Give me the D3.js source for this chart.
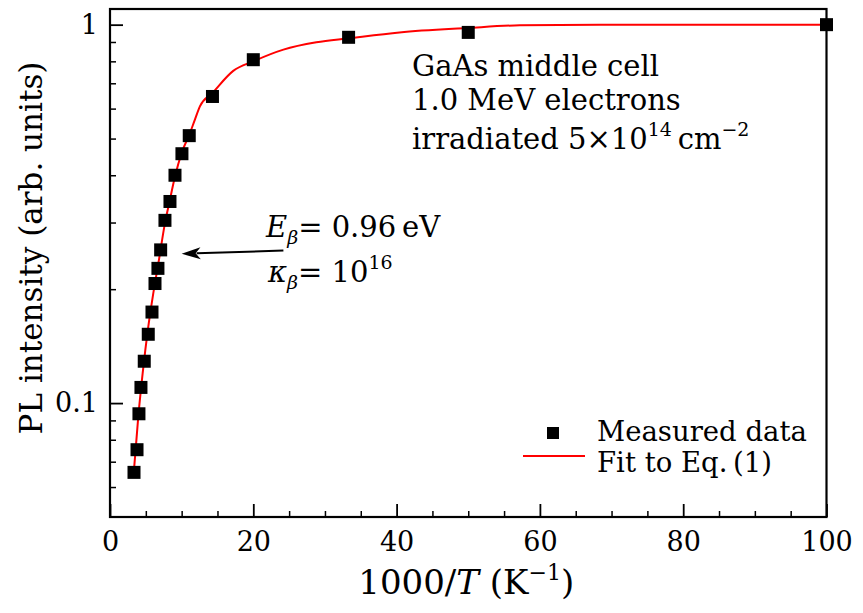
<!DOCTYPE html>
<html>
<head>
<meta charset="utf-8">
<script src="https://cdn.jsdelivr.net/npm/d3@7/dist/d3.min.js"></script>
<style>
  html, body { margin: 0; padding: 0; background: #fff; }
  svg { display: block; }
  text { font-family: "DejaVu Serif", serif; fill: #000; }
</style>
</head>
<body>
<svg id="chart" width="863" height="613"></svg>
<script>
// ---- data ----
const measuredX = [3.35, 3.77, 4.04, 4.32, 4.78, 5.34, 5.86, 6.28, 6.69, 7.07, 7.67, 8.37, 9.07, 10.04, 11.06, 14.3, 20.0, 33.3, 50.0, 100];
const measuredY = [0.0656, 0.0753, 0.0937, 0.110, 0.129, 0.152, 0.174, 0.207, 0.227, 0.254, 0.304, 0.341, 0.400, 0.456, 0.509, 0.646, 0.808, 0.926, 0.954, 1.0];
const fitX = [3.35, 3.95, 4.56, 5.34, 6.04, 6.83, 7.67, 8.27, 9.07, 10.0, 11.16, 11.85, 12.55, 14.3, 17.2, 20.0, 24.2, 28.8, 33.3, 40.4, 49.9, 57.2, 68.3, 100];
const fitY = [0.0667, 0.0922, 0.120, 0.159, 0.195, 0.239, 0.299, 0.338, 0.397, 0.458, 0.517, 0.561, 0.608, 0.660, 0.755, 0.800, 0.859, 0.898, 0.920, 0.954, 0.980, 0.996, 1.0, 1.0];
const xMajorTicks = [0, 20, 40, 60, 80, 100];
const xMinorTicks = [5, 10, 15, 25, 30, 35, 45, 50, 55, 65, 70, 75, 85, 90, 95];
const yMajorTicks = [0.1, 1];
const yMajorLabels = ["0.1", "1"];
const yMinorTicks = [0.06, 0.07, 0.08, 0.09, 0.2, 0.3, 0.4, 0.5, 0.6, 0.7, 0.8, 0.9];
const legendLabels = ["Measured data", "Fit to Eq.\u2009(1)"];

// ---- layout ----
const W = 863, H = 613;
const m = { left: 110, right: 36.5, top: 9, bottom: 96 };
const svg = d3.select("#chart");

const x = d3.scaleLinear().domain([0, 100]).range([m.left, W - m.right]);
const y = d3.scaleLog().domain([0.05, 1.1]).range([H - m.bottom, m.top]);

// minor ticks
svg.append("g").attr("transform", `translate(0,${H - m.bottom})`)
  .call(d3.axisBottom(x).tickValues(xMinorTicks).tickSize(-6).tickFormat(""))
  .call(g => g.select(".domain").remove())
  .call(g => g.selectAll("line").attr("stroke-width", 1.5));
svg.append("g").attr("transform", `translate(${m.left},0)`)
  .call(d3.axisLeft(y).tickValues(yMinorTicks).tickSize(-6).tickFormat(""))
  .call(g => g.select(".domain").remove())
  .call(g => g.selectAll("line").attr("stroke-width", 1.5));

// major ticks + labels
svg.append("g").attr("transform", `translate(0,${H - m.bottom})`)
  .call(d3.axisBottom(x).tickValues(xMajorTicks).tickSize(-13).tickPadding(15).tickFormat(d3.format("d")))
  .call(g => g.select(".domain").remove())
  .call(g => g.selectAll("line").attr("stroke-width", 1.8))
  .call(g => g.selectAll("text").attr("font-size", 27).attr("font-family", "DejaVu Serif"));
svg.append("g").attr("transform", `translate(${m.left},0)`)
  .call(d3.axisLeft(y).tickValues(yMajorTicks).tickSize(-13).tickPadding(12)
    .tickFormat((d, i) => yMajorLabels[i]))
  .call(g => g.select(".domain").remove())
  .call(g => g.selectAll("line").attr("stroke-width", 1.8))
  .call(g => g.selectAll("text").attr("font-size", 27).attr("font-family", "DejaVu Serif"));

// frame
svg.append("rect")
  .attr("x", m.left).attr("y", m.top)
  .attr("width", W - m.left - m.right).attr("height", H - m.top - m.bottom)
  .attr("fill", "none").attr("stroke", "#000").attr("stroke-width", 2.2);

// fit line
const fitData = fitX.map((d, i) => [d, fitY[i]]);
svg.append("path")
  .datum(fitData)
  .attr("fill", "none").attr("stroke", "#ff0000").attr("stroke-width", 2)
  .attr("d", d3.line().x(d => x(d[0])).y(d => y(d[1])).curve(d3.curveMonotoneX));

// measured squares
const sq = 13;
svg.append("g").selectAll("rect")
  .data(measuredX.map((d, i) => [d, measuredY[i]]))
  .join("rect")
  .attr("x", d => x(d[0]) - sq / 2).attr("y", d => y(d[1]) - sq / 2)
  .attr("width", sq).attr("height", sq).attr("fill", "#000");

// axis titles
svg.append("text")
  .attr("x", x(50) - 2).attr("y", 594)
  .attr("text-anchor", "middle").attr("font-size", 34)
  .call(t => {
    t.append("tspan").text("1000/");
    t.append("tspan").attr("font-style", "italic").text("T");
    t.append("tspan").text(" (K");
    t.append("tspan").attr("font-size", 22).attr("dy", -14).text("\u22121");
    t.append("tspan").attr("dy", 14).text(")");
  });
svg.append("text")
  .attr("transform", `translate(42,${(m.top + H - m.bottom) / 2 - 15}) rotate(-90)`)
  .attr("text-anchor", "middle").attr("font-size", 31)
  .text("PL intensity (arb. units)");

// annotation block
const ann = svg.append("g").attr("font-size", 29);
ann.append("text").attr("x", 412).attr("y", 76).text("GaAs middle cell");
ann.append("text").attr("x", 412).attr("y", 110).text("1.0 MeV electrons");
ann.append("text").attr("x", 412).attr("y", 149).call(t => {
  t.append("tspan").text("irradiated 5\u00d710");
  t.append("tspan").attr("font-size", 19).attr("dy", -13).text("14");
  t.append("tspan").attr("dy", 13).text("\u2009cm");
  t.append("tspan").attr("font-size", 19).attr("dy", -13).text("\u22122");
});

// parameter labels
ann.append("text").attr("x", 266).attr("y", 237).call(t => {
  t.append("tspan").attr("font-style", "italic").text("E");
  t.append("tspan").attr("font-style", "italic").attr("font-size", 19).attr("dy", 7).text("\u03b2");
  t.append("tspan").attr("dy", -7).text("= 0.96\u2009eV");
});
ann.append("text").attr("x", 268).attr("y", 282).call(t => {
  t.append("tspan").attr("font-style", "italic").text("\u03ba");
  t.append("tspan").attr("font-style", "italic").attr("font-size", 19).attr("dy", 7).text("\u03b2");
  t.append("tspan").attr("dy", -7).text("= 10");
  t.append("tspan").attr("font-size", 19).attr("dy", -13).text("16");
});

// arrow (anchored in data coordinates)
const arrowTail = [24.2, 0.253], arrowTip = [10.0, 0.248];
const tx = x(arrowTip[0]), ty = y(arrowTip[1]);
const sx = x(arrowTail[0]), sy = y(arrowTail[1]);
const ang = Math.atan2(ty - sy, tx - sx);
const L = 19, hw = 6;
const bx = tx - L * Math.cos(ang), by = ty - L * Math.sin(ang);
svg.append("line").attr("x1", sx).attr("y1", sy).attr("x2", bx + 4 * Math.cos(ang)).attr("y2", by + 4 * Math.sin(ang))
  .attr("stroke", "#000").attr("stroke-width", 2);
svg.append("path")
  .attr("d", `M${tx},${ty} L${bx - hw * Math.sin(ang)},${by + hw * Math.cos(ang)} L${bx + 5 * Math.cos(ang)},${by + 5 * Math.sin(ang)} L${bx + hw * Math.sin(ang)},${by - hw * Math.cos(ang)} Z`)
  .attr("fill", "#000");

// legend
const lg = svg.append("g").attr("font-size", 27.5);
lg.append("rect").attr("x", 553 - 6).attr("y", 433 - 6).attr("width", 12).attr("height", 12).attr("fill", "#000");
lg.append("text").attr("x", 597).attr("y", 441).text(legendLabels[0]);
lg.append("line").attr("x1", 523).attr("x2", 585).attr("y1", 456).attr("y2", 456)
  .attr("stroke", "#ff0000").attr("stroke-width", 2);
lg.append("text").attr("x", 597).attr("y", 472).text(legendLabels[1]);
</script>
</body>
</html>
